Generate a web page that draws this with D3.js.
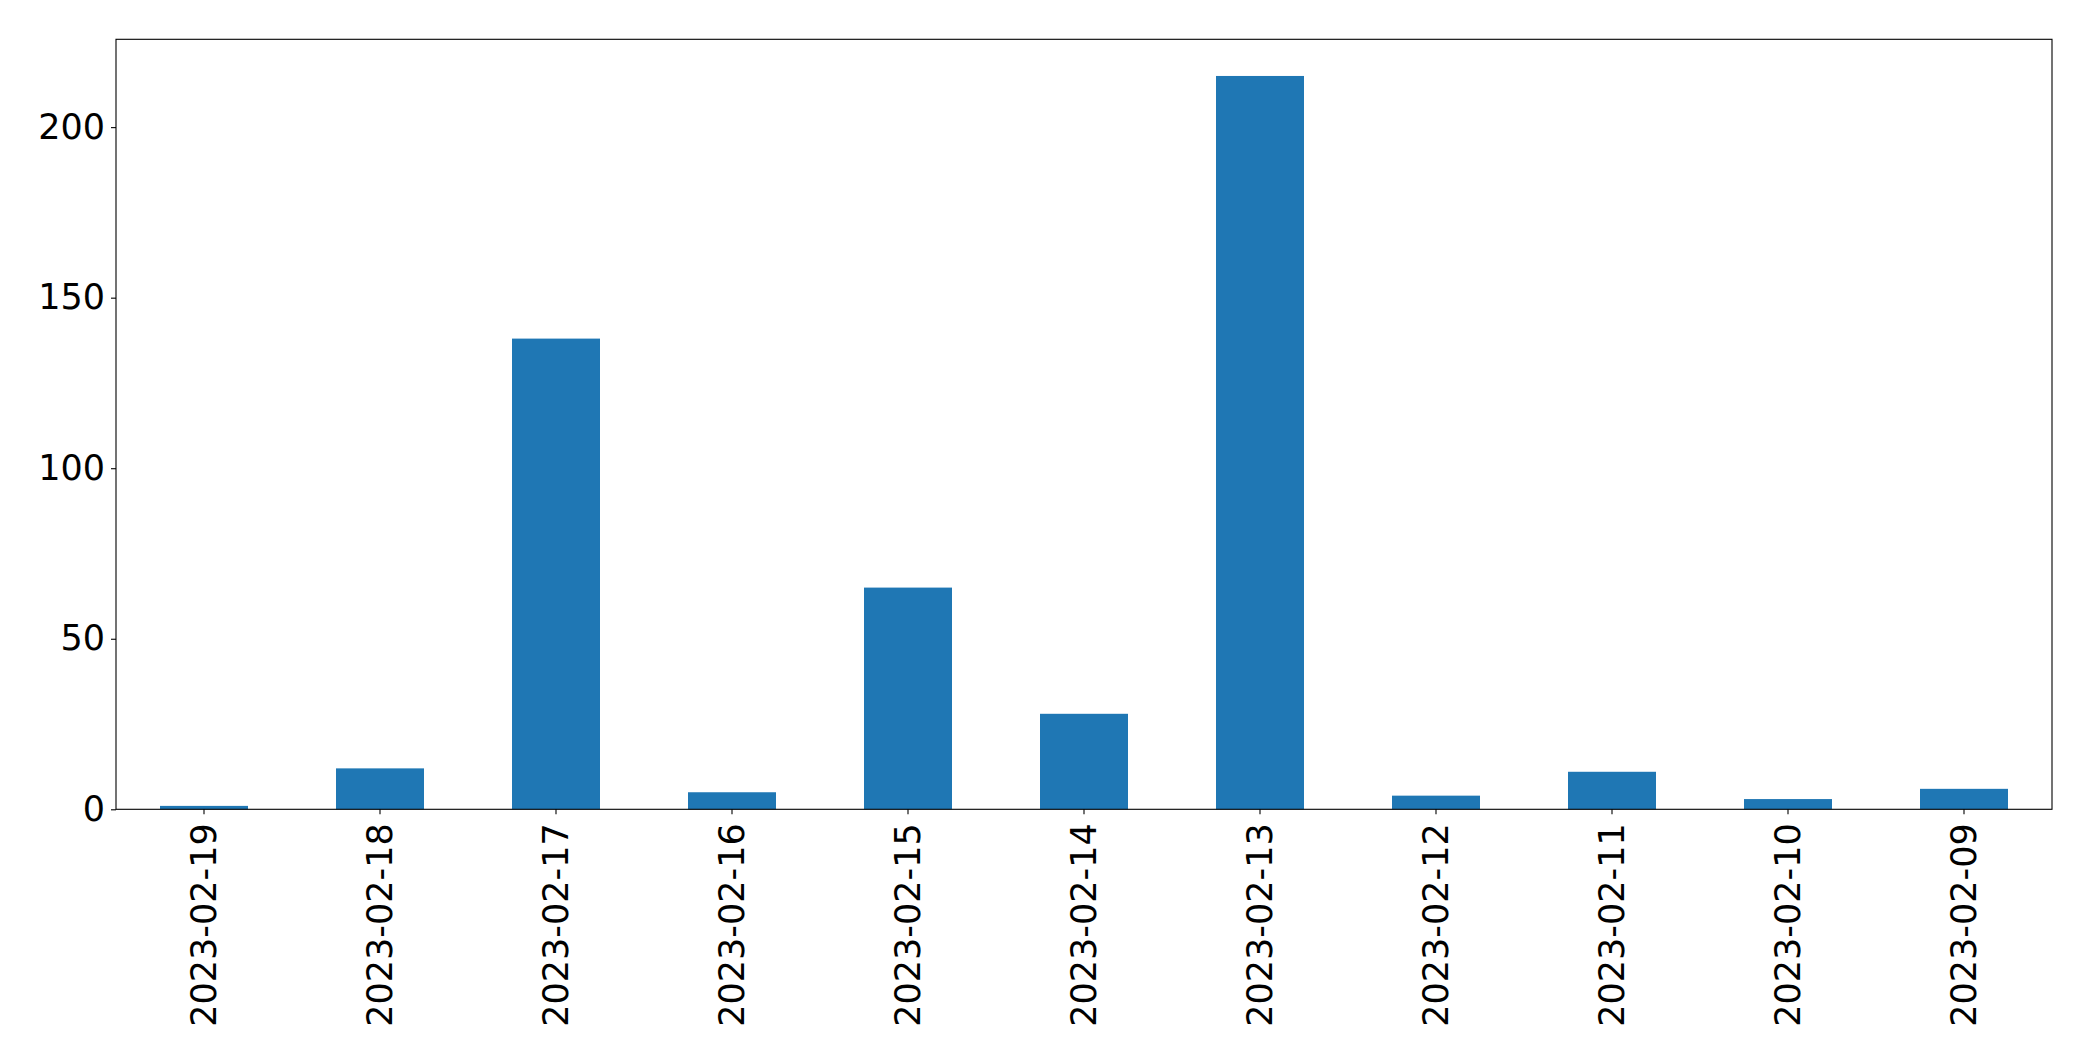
<!DOCTYPE html>
<html>
<head>
<meta charset="utf-8">
<script src="https://cdn.jsdelivr.net/npm/d3@7"></script>
<style>
  html, body { margin: 0; padding: 0; background: #fff; }
  svg { display: block; }
</style>
</head>
<body>
<svg id="chart" width="2093" height="1061"></svg>
<script>
const categories = ["2023-02-19","2023-02-18","2023-02-17","2023-02-16","2023-02-15","2023-02-14","2023-02-13","2023-02-12","2023-02-11","2023-02-10","2023-02-09"];
const values = [1, 12, 138, 5, 65, 28, 215, 4, 11, 3, 6];
const yTicks = [0, 50, 100, 150, 200];

const W = 2093, H = 1061;
const margin = {left: 116, right: 2093 - 2052, top: 39.3, bottom: 1061 - 809.3};
const svg = d3.select("#chart");
const innerW = W - margin.left - margin.right;
const innerH = H - margin.top - margin.bottom;
const g = svg.append("g").attr("transform", `translate(${margin.left},${margin.top})`);

const x = d3.scaleBand().domain(categories).range([0, innerW]).paddingInner(0.5).paddingOuter(0.25);
const y = d3.scaleLinear().domain([0, d3.max(values) * 1.05]).range([innerH, 0]);

g.selectAll("rect.bar").data(values).enter().append("rect")
  .attr("class", "bar")
  .attr("x", (d, i) => x(categories[i]))
  .attr("width", x.bandwidth())
  .attr("y", d => y(d))
  .attr("height", d => innerH - y(d))
  .attr("fill", "#1f77b4");

const fontFamily = "'DejaVu Sans', sans-serif";
const fs = 35;

const yAxis = g.append("g")
  .call(d3.axisLeft(y).tickValues(yTicks).tickSize(5).tickPadding(6));
yAxis.select(".domain").remove();
yAxis.selectAll("line").attr("stroke", "#000").attr("stroke-width", 1.1);
yAxis.selectAll("text").attr("font-family", fontFamily).attr("font-size", fs).attr("fill", "#000");

const xAxis = g.append("g").attr("transform", `translate(0,${innerH})`)
  .call(d3.axisBottom(x).tickSize(5).tickPadding(6));
xAxis.select(".domain").remove();
xAxis.selectAll("line").attr("stroke", "#000").attr("stroke-width", 1.1);
xAxis.selectAll("text")
  .attr("font-family", fontFamily).attr("font-size", fs).attr("fill", "#000")
  .attr("transform", "rotate(-90)")
  .attr("text-anchor", "end")
  .attr("x", -14)
  .attr("y", 0)
  .attr("dy", "0.35em");

g.append("rect")
  .attr("x", 0).attr("y", 0).attr("width", innerW).attr("height", innerH)
  .attr("fill", "none").attr("stroke", "#000").attr("stroke-width", 1.1);
</script>
</body>
</html>
